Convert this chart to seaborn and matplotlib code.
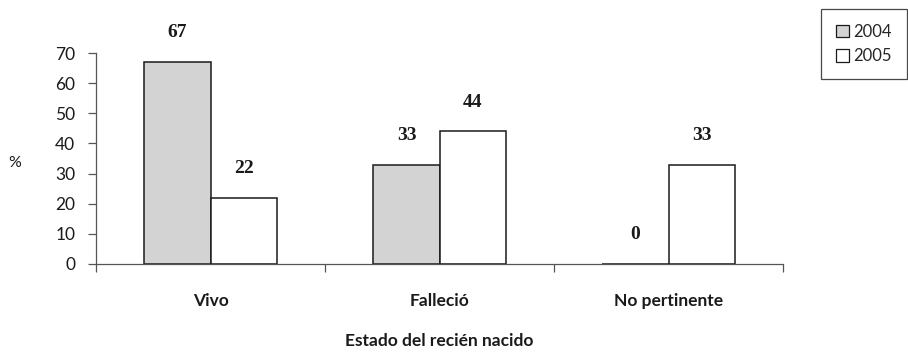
import matplotlib
matplotlib.use("Agg")
import matplotlib.pyplot as plt
import seaborn as sns
import pandas as pd
from matplotlib.ticker import FixedLocator

categories = ["Vivo", "Falleció", "No pertinente"]
years = ["2004", "2005"]
values_2004 = [67, 33, 0]
values_2005 = [22, 44, 33]
y_ticks = [0, 10, 20, 30, 40, 50, 60, 70]

df = pd.DataFrame({
    "estado": categories * 2,
    "anio": [years[0]] * 3 + [years[1]] * 3,
    "pct": values_2004 + values_2005,
})

sns.set_theme(style="white")
plt.rcParams["font.family"] = ["Lato", "DejaVu Sans"]

fig = plt.figure(figsize=(9.08, 3.55), dpi=100)
ax = fig.add_axes([96 / 908, 1 - 264 / 355, (783 - 96) / 908, (264 - 53) / 355])

sns.barplot(data=df, x="estado", y="pct", hue="anio", order=categories,
            hue_order=years, palette=["#d3d3d3", "#ffffff"],
            edgecolor="#1a1a1a", linewidth=1.1, width=0.577, gap=0,
            saturation=1, ax=ax, legend=True)

# value labels above each bar
for container, vals in zip(ax.containers, [values_2004, values_2005]):
    for rect, v in zip(container, vals):
        ax.annotate(f"{v}", (rect.get_x() + rect.get_width() / 2, v),
                    xytext=(0, 21), textcoords="offset points",
                    ha="center", va="center", fontsize=14,
                    fontweight="bold", family="Liberation Serif",
                    color="#1a1a1a")

ax.set_xlim(-0.5, 2.5)
ax.set_ylim(0, 70)
ax.set_yticks(y_ticks)
ax.tick_params(axis="y", direction="out", length=6, width=0.9,
               color="#555555", labelsize=12.5, labelcolor="#1a1a1a", pad=9,
               left=True)
ax.tick_params(axis="x", which="major", length=0, pad=21,
               labelsize=12.5, labelcolor="#1a1a1a")
for lab in ax.get_xticklabels():
    lab.set_fontweight("bold")
ax.xaxis.set_minor_locator(FixedLocator([-0.5, 0.5, 1.5, 2.5]))
ax.tick_params(axis="x", which="minor", direction="out", length=6,
               width=0.9, color="#555555", bottom=True)

for side in ["top", "right"]:
    ax.spines[side].set_visible(False)
for side in ["left", "bottom"]:
    ax.spines[side].set_color("#555555")
    ax.spines[side].set_linewidth(0.9)

ax.set_xlabel("Estado del recién nacido", fontsize=12.5, fontweight="bold",
              color="#1a1a1a", labelpad=17)
ax.set_ylabel("")
fig.text(15 / 908, 1 - 163 / 355, "%", fontsize=11.5, color="#1a1a1a",
         ha="center", va="center")

handles, labels = ax.get_legend_handles_labels()
ax.get_legend().remove()
leg = fig.legend(handles, labels, loc="upper right",
                 bbox_to_anchor=(907 / 908, 1 - 9 / 355), frameon=True,
                 fancybox=False, fontsize=12, handlelength=0.75,
                 handleheight=0.75, handletextpad=0.3, borderpad=0.9,
                 labelspacing=0.5, borderaxespad=0)
leg.get_frame().set_edgecolor("#1a1a1a")
leg.get_frame().set_linewidth(0.9)
for h in leg.legend_handles:
    h.set_edgecolor("#1a1a1a")
    h.set_linewidth(0.9)

fig.savefig("out.png", dpi=100)
